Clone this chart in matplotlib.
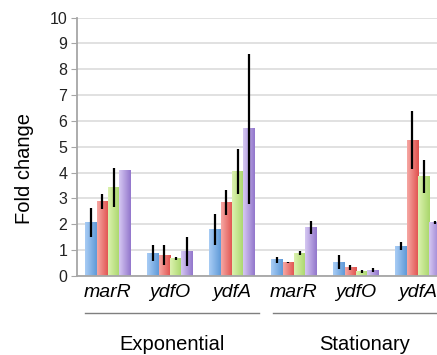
import numpy as np
import matplotlib
matplotlib.use("Agg")
import matplotlib.pyplot as plt
from matplotlib.colors import LinearSegmentedColormap
import matplotlib.transforms as mtransforms

plt.rcParams['font.family'] = ['Liberation Sans', 'DejaVu Sans']

genes = ["marR", "ydfO", "ydfA", "marR", "ydfO", "ydfA"]
phases = ["Exponential", "Stationary"]
phase_groups = [[0, 1, 2], [3, 4, 5]]

s1 = [2.07, 0.88, 1.80, 0.62, 0.54, 1.15]
s1_err = [0.55, 0.30, 0.60, 0.12, 0.27, 0.15]
s2 = [2.87, 0.80, 2.83, 0.53, 0.32, 5.25]
s2_err = [0.29, 0.38, 0.48, 0.03, 0.10, 1.12]
s3 = [3.42, 0.68, 4.05, 0.88, 0.18, 3.85]
s3_err = [0.77, 0.05, 0.88, 0.08, 0.07, 0.65]
s4 = [4.10, 0.95, 5.70, 1.88, 0.22, 2.06]
s4_err = [0.0, 0.55, 2.90, 0.25, 0.08, 0.05]

series = [(s1, s1_err), (s2, s2_err), (s3, s3_err), (s4, s4_err)]
grads = [("#a9cdf5", "#5f9ad8"), ("#f6a8a4", "#e0504c"),
         ("#dcf2b0", "#a9d66a"), ("#d6c8f2", "#9276cc")]

fig = plt.figure(figsize=(4.37, 3.55), dpi=100)
ax = fig.add_axes([77/437, 79/355, 372/437, 258.5/355])

x = np.arange(len(genes))
bw = 0.1815
offsets = (np.arange(4) - 1.5) * bw

grad_img = np.linspace(0, 1, 64).reshape(1, -1)
for (vals, errs), off, (c0, c1) in zip(series, offsets, grads):
    cmap = LinearSegmentedColormap.from_list("g", [c0, c1])
    bars = ax.bar(x + off, vals, width=bw, color=c1, zorder=2, linewidth=0)
    for b in bars:
        bx, by = b.get_x(), b.get_y()
        bwid, bh = b.get_width(), b.get_height()
        ax.imshow(grad_img, cmap=cmap, aspect='auto', zorder=2.1,
                  extent=[bx, bx + bwid, by, by + bh], interpolation='bicubic')
    ax.errorbar(x + off, vals, yerr=errs, fmt='none', ecolor='black',
                elinewidth=1.6, capsize=0, zorder=3)

ax.set_xlim(-0.5, 5.5)
ax.set_ylim(0, 10)
ax.set_yticks(range(0, 11))
ax.tick_params(axis='y', labelsize=11.5, length=4, color='#a6a6a6', pad=3,
               labelcolor='#222222')
ax.set_xticks(x)
ax.set_xticklabels(genes, fontsize=14, style='italic')
ax.tick_params(axis='x', length=0, pad=6)
ax.yaxis.grid(True, color='#d9d9d9', linewidth=1.1, zorder=0)
ax.set_axisbelow(True)
for sp in ['top', 'right']:
    ax.spines[sp].set_visible(False)
for sp in ['left', 'bottom']:
    ax.spines[sp].set_color('#a6a6a6')
    ax.spines[sp].set_linewidth(1.3)

fig.text(24/437, 187/355, "Fold change", rotation=90, ha='center',
         va='center', fontsize=14.5)

trans = mtransforms.blended_transform_factory(ax.transData, ax.transAxes)
for name, grp in zip(phases, phase_groups):
    x0 = grp[0] - 0.37
    x1 = grp[-1] + 0.43 if grp[-1] < 5 else grp[-1] + 0.63
    if grp[0] == 3:
        x0 = grp[0] - 0.34
    ax.plot([x0, x1], [-0.143, -0.143], transform=trans, color='#7f7f7f',
            linewidth=1.0, clip_on=False)
    ax.text((x0 + x1) / 2, -0.265, name, transform=trans, ha='center',
            va='center', fontsize=14.5)

fig.savefig("out.png", dpi=100)
